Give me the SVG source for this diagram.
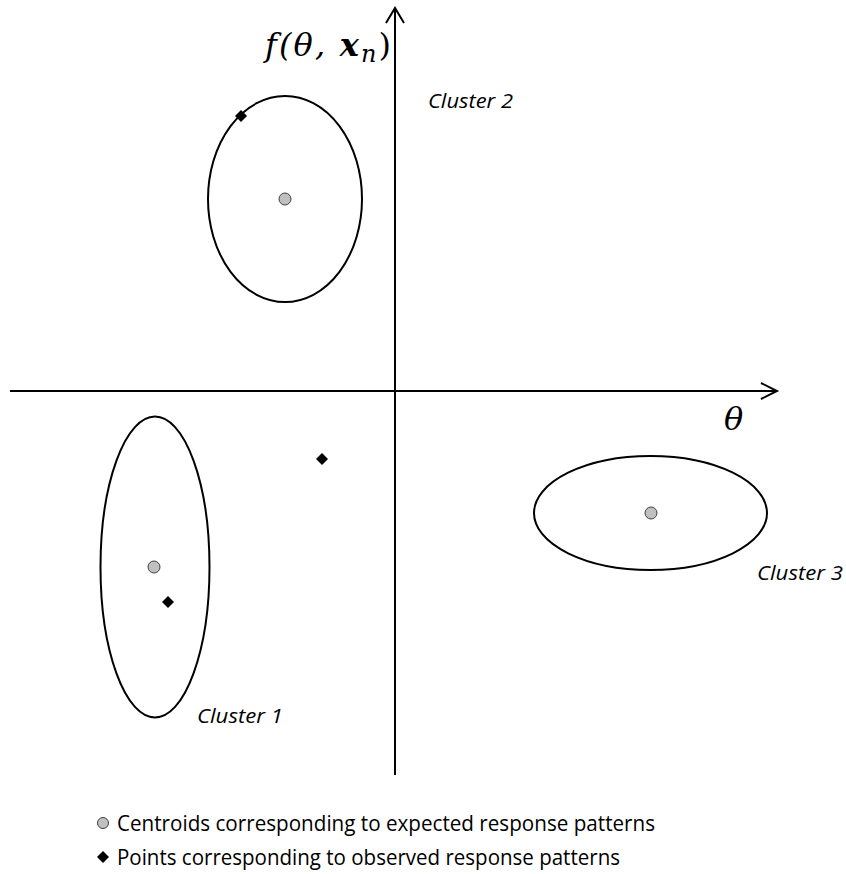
<svg xmlns="http://www.w3.org/2000/svg" width="846" height="874" viewBox="0 0 846 874">
<style>
.ell{fill:none;stroke:#000;stroke-width:2}
.cen{fill:#c0c0c0;stroke:#404040;stroke-width:1}
.pt{fill:#000}
.ax{fill:none;stroke:#000;stroke-width:2}
.lbl{font-family:"Open Sans","Liberation Sans",sans-serif;font-style:italic;font-size:20px;fill:#000}
.leg{font-family:"Open Sans","Liberation Sans",sans-serif;font-size:21px;fill:#000}
.math{font-family:"DejaVu Serif","Liberation Serif",serif;font-style:italic;font-size:32px;fill:#000}
</style>
<rect width="846" height="874" fill="#fff"/>
<g id="axes">
<line class="ax" x1="395" y1="775" x2="395" y2="9"/>
<polyline class="ax" points="386,23 395,8 404,23"/>
<line class="ax" x1="10" y1="391" x2="777" y2="391"/>
<polyline class="ax" points="761,383 777,391 761,399"/>
<text class="math" x="265" y="56" textLength="126" lengthAdjust="spacing">f(θ, <tspan font-weight="bold">x</tspan><tspan font-size="24" dy="6">n</tspan><tspan dy="-6" font-style="normal">)</tspan></text>
<text class="math" x="724" y="430">θ</text>
</g>
<g id="cluster2">
<ellipse class="ell" cx="285" cy="199" rx="77" ry="103"/>
<circle class="cen" cx="285" cy="199" r="6"/>
<text class="lbl" x="428" y="108" textLength="85" lengthAdjust="spacingAndGlyphs">Cluster 2</text>
</g>
<g id="cluster1">
<ellipse class="ell" cx="155" cy="567" rx="54.5" ry="150.5"/>
<circle class="cen" cx="154" cy="567" r="6"/>
<text class="lbl" x="197" y="723" textLength="86" lengthAdjust="spacingAndGlyphs">Cluster 1</text>
</g>
<g id="cluster3">
<ellipse class="ell" cx="650.5" cy="513" rx="116.5" ry="57"/>
<circle class="cen" cx="651" cy="513" r="6"/>
<text class="lbl" x="757" y="580" textLength="86" lengthAdjust="spacingAndGlyphs">Cluster 3</text>
</g>
<g id="points">
<polygon class="pt" points="241,110 247,116 241,122 235,116"/>
<polygon class="pt" points="168,596 174,602 168,608 162,602"/>
<polygon class="pt" points="322,453 328,459 322,465 316,459"/>
</g>
<g id="legend">
<circle class="cen" cx="103" cy="823" r="5.5"/>
<text class="leg" x="117" y="831" textLength="538" lengthAdjust="spacingAndGlyphs">Centroids corresponding to expected response patterns</text>
<polygon class="pt" points="103,851 109,857 103,863 97,857"/>
<text class="leg" x="117" y="865" textLength="503" lengthAdjust="spacingAndGlyphs">Points corresponding to observed response patterns</text>
</g>
</svg>
